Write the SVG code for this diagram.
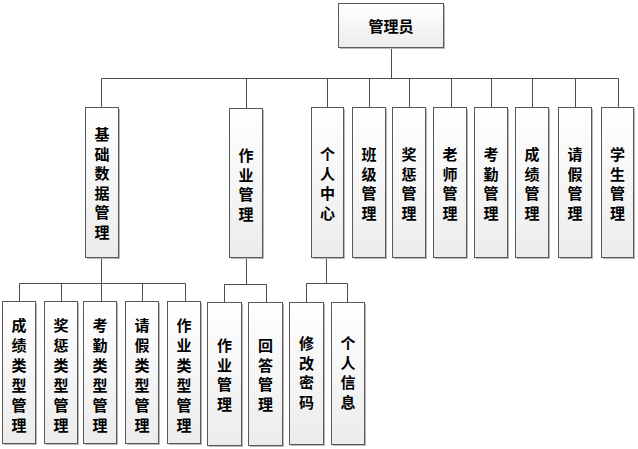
<svg xmlns="http://www.w3.org/2000/svg" width="638" height="449" viewBox="0 0 638 449">
<style>
.box{fill:url(#g);stroke:#595959;stroke-width:1}
.sh{fill:#b8b8b8}
.t{font-family:"Noto Sans CJK SC","Noto Sans CJK JP",sans-serif;font-weight:bold;font-size:15px;fill:#000;text-anchor:middle;dominant-baseline:central}
.c{fill:none;stroke:#4d4d4d;stroke-width:1}
</style>
<defs>
<linearGradient id="g" x1="0" y1="0" x2="0" y2="1">
<stop offset="0" stop-color="#ffffff"/>
<stop offset="1" stop-color="#ececec"/>
</linearGradient>
</defs>
<g id="connectors">
<path class="c" d="M391.5 47V78.5M101.5 78.5H618.5M101.5 78.5V107M246.5 78.5V108M327.5 78.5V107M369.5 78.5V107M409.5 78.5V107M451.5 78.5V107M491.5 78.5V107M532.5 78.5V107M575.5 78.5V107M618.5 78.5V107"/>
<path class="c" d="M101.5 257V283.5M19.5 283.5H185.5M19.5 283.5V301M61.5 283.5V301M101.5 283.5V301M142.5 283.5V301M185.5 283.5V301"/>
<path class="c" d="M246.5 257V284.5M224.5 284.5H266.5M224.5 284.5V302M266.5 284.5V302"/>
<path class="c" d="M326.5 257V283.5M306.5 283.5H347.5M306.5 283.5V302M347.5 283.5V302"/>
</g>
<g id="n-admin"><rect class="sh" x="340" y="5" width="105" height="44"/><rect class="box" x="338.5" y="3.5" width="105" height="44"/><text class="t" x="391" y="25">管理员</text></g>
<g id="n-jcsj"><rect class="sh" x="87" y="109" width="33" height="150"/><rect class="box" x="85.5" y="107.5" width="33" height="150"/><text class="t"><tspan x="102" y="133">基</tspan><tspan x="102" y="152.5">础</tspan><tspan x="102" y="172">数</tspan><tspan x="102" y="191.5">据</tspan><tspan x="102" y="211">管</tspan><tspan x="102" y="230.5">理</tspan></text></g>
<g id="n-zygl"><rect class="sh" x="231" y="110" width="33" height="149"/><rect class="box" x="229.5" y="108.5" width="33" height="149"/><text class="t"><tspan x="246" y="154">作</tspan><tspan x="246" y="173.5">业</tspan><tspan x="246" y="193">管</tspan><tspan x="246" y="212.5">理</tspan></text></g>
<g id="n-grzx"><rect class="sh" x="313" y="109" width="32" height="150"/><rect class="box" x="311.5" y="107.5" width="32" height="150"/><text class="t"><tspan x="327.5" y="153">个</tspan><tspan x="327.5" y="172.5">人</tspan><tspan x="327.5" y="192">中</tspan><tspan x="327.5" y="211.5">心</tspan></text></g>
<g id="n-bjgl"><rect class="sh" x="354" y="109" width="33" height="150"/><rect class="box" x="352.5" y="107.5" width="33" height="150"/><text class="t"><tspan x="369" y="153">班</tspan><tspan x="369" y="172.5">级</tspan><tspan x="369" y="192">管</tspan><tspan x="369" y="211.5">理</tspan></text></g>
<g id="n-jcgl"><rect class="sh" x="394" y="109" width="33" height="150"/><rect class="box" x="392.5" y="107.5" width="33" height="150"/><text class="t"><tspan x="409" y="153">奖</tspan><tspan x="409" y="172.5">惩</tspan><tspan x="409" y="192">管</tspan><tspan x="409" y="211.5">理</tspan></text></g>
<g id="n-lsgl"><rect class="sh" x="435" y="109" width="33" height="150"/><rect class="box" x="433.5" y="107.5" width="33" height="150"/><text class="t"><tspan x="450" y="153">老</tspan><tspan x="450" y="172.5">师</tspan><tspan x="450" y="192">管</tspan><tspan x="450" y="211.5">理</tspan></text></g>
<g id="n-kqgl"><rect class="sh" x="476" y="109" width="33" height="150"/><rect class="box" x="474.5" y="107.5" width="33" height="150"/><text class="t"><tspan x="491" y="153">考</tspan><tspan x="491" y="172.5">勤</tspan><tspan x="491" y="192">管</tspan><tspan x="491" y="211.5">理</tspan></text></g>
<g id="n-cjgl"><rect class="sh" x="517" y="109" width="33" height="150"/><rect class="box" x="515.5" y="107.5" width="33" height="150"/><text class="t"><tspan x="532" y="153">成</tspan><tspan x="532" y="172.5">绩</tspan><tspan x="532" y="192">管</tspan><tspan x="532" y="211.5">理</tspan></text></g>
<g id="n-qjgl"><rect class="sh" x="560" y="109" width="33" height="150"/><rect class="box" x="558.5" y="107.5" width="33" height="150"/><text class="t"><tspan x="575" y="153">请</tspan><tspan x="575" y="172.5">假</tspan><tspan x="575" y="192">管</tspan><tspan x="575" y="211.5">理</tspan></text></g>
<g id="n-xsgl"><rect class="sh" x="603" y="109" width="32" height="150"/><rect class="box" x="601.5" y="107.5" width="32" height="150"/><text class="t"><tspan x="617.5" y="153">学</tspan><tspan x="617.5" y="172.5">生</tspan><tspan x="617.5" y="192">管</tspan><tspan x="617.5" y="211.5">理</tspan></text></g>
<g id="n-cjlx"><rect class="sh" x="4" y="303" width="33" height="142"/><rect class="box" x="2.5" y="301.5" width="33" height="142"/><text class="t"><tspan x="19" y="324">成</tspan><tspan x="19" y="344">绩</tspan><tspan x="19" y="364">类</tspan><tspan x="19" y="384">型</tspan><tspan x="19" y="404">管</tspan><tspan x="19" y="424">理</tspan></text></g>
<g id="n-jclx"><rect class="sh" x="46" y="303" width="33" height="142"/><rect class="box" x="44.5" y="301.5" width="33" height="142"/><text class="t"><tspan x="61" y="324">奖</tspan><tspan x="61" y="344">惩</tspan><tspan x="61" y="364">类</tspan><tspan x="61" y="384">型</tspan><tspan x="61" y="404">管</tspan><tspan x="61" y="424">理</tspan></text></g>
<g id="n-kqlx"><rect class="sh" x="85" y="303" width="33" height="142"/><rect class="box" x="83.5" y="301.5" width="33" height="142"/><text class="t"><tspan x="100" y="324">考</tspan><tspan x="100" y="344">勤</tspan><tspan x="100" y="364">类</tspan><tspan x="100" y="384">型</tspan><tspan x="100" y="404">管</tspan><tspan x="100" y="424">理</tspan></text></g>
<g id="n-qjlx"><rect class="sh" x="127" y="303" width="33" height="142"/><rect class="box" x="125.5" y="301.5" width="33" height="142"/><text class="t"><tspan x="142" y="324">请</tspan><tspan x="142" y="344">假</tspan><tspan x="142" y="364">类</tspan><tspan x="142" y="384">型</tspan><tspan x="142" y="404">管</tspan><tspan x="142" y="424">理</tspan></text></g>
<g id="n-zylx"><rect class="sh" x="169" y="303" width="33" height="142"/><rect class="box" x="167.5" y="301.5" width="33" height="142"/><text class="t"><tspan x="184" y="324">作</tspan><tspan x="184" y="344">业</tspan><tspan x="184" y="364">类</tspan><tspan x="184" y="384">型</tspan><tspan x="184" y="404">管</tspan><tspan x="184" y="424">理</tspan></text></g>
<g id="n-zygl2"><rect class="sh" x="209" y="304" width="34" height="143"/><rect class="box" x="207.5" y="302.5" width="34" height="143"/><text class="t"><tspan x="224.5" y="344">作</tspan><tspan x="224.5" y="363.5">业</tspan><tspan x="224.5" y="383">管</tspan><tspan x="224.5" y="402.5">理</tspan></text></g>
<g id="n-hdgl"><rect class="sh" x="250" y="304" width="34" height="143"/><rect class="box" x="248.5" y="302.5" width="34" height="143"/><text class="t"><tspan x="265.5" y="344">回</tspan><tspan x="265.5" y="363.5">答</tspan><tspan x="265.5" y="383">管</tspan><tspan x="265.5" y="402.5">理</tspan></text></g>
<g id="n-xgmm"><rect class="sh" x="291" y="304" width="34" height="142"/><rect class="box" x="289.5" y="302.5" width="34" height="142"/><text class="t"><tspan x="306.5" y="342">修</tspan><tspan x="306.5" y="361.5">改</tspan><tspan x="306.5" y="381">密</tspan><tspan x="306.5" y="400.5">码</tspan></text></g>
<g id="n-grxx"><rect class="sh" x="333" y="304" width="33" height="142"/><rect class="box" x="331.5" y="302.5" width="33" height="142"/><text class="t"><tspan x="348" y="342">个</tspan><tspan x="348" y="361.5">人</tspan><tspan x="348" y="381">信</tspan><tspan x="348" y="400.5">息</tspan></text></g>
</svg>
